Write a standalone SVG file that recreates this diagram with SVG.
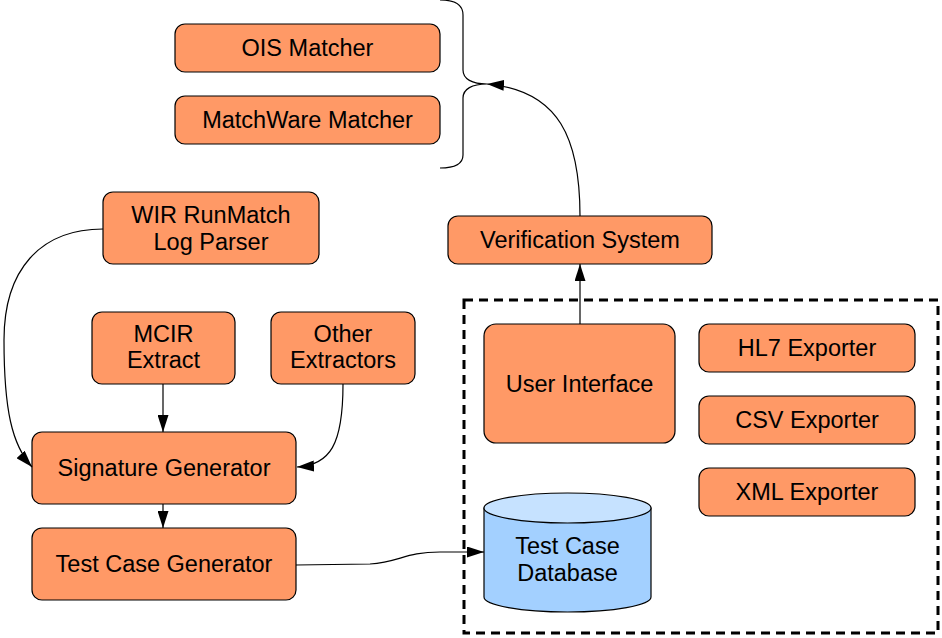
<svg xmlns="http://www.w3.org/2000/svg" width="942" height="638" viewBox="0 0 942 638">
<style>
.box{fill:#ff9966;stroke:#000;stroke-width:1.2}
.t{font-family:"Liberation Sans",Arial,sans-serif;font-size:23.5px;fill:#000;text-anchor:middle}
.c{fill:none;stroke:#000;stroke-width:1.2}
</style>
<defs>
<marker id="ah" markerUnits="userSpaceOnUse" markerWidth="17" markerHeight="11" refX="17" refY="5.5" orient="auto" viewBox="0 0 17 11">
<path d="M0,0 L17,5.5 L0,11 z" fill="#000"/>
</marker>
</defs>
<rect x="0" y="0" width="942" height="638" fill="#fff"/>
<g id="container">
<rect x="464" y="300" width="474" height="333" fill="none" stroke="#000" stroke-width="3" stroke-dasharray="9,6"/>
</g>
<g id="brace">
<path class="c" d="M440,0 C455,0 463,5 463,15 L463,70 C463,79 472,84 487,84 C472,84 463,89 463,98 L463,155 C463,164 455,168 440,168"/>
</g>
<g id="ois"><rect class="box" x="175" y="24" width="265" height="48" rx="10"/><text class="t" x="307.5" y="56">OIS Matcher</text></g>
<g id="matchware"><rect class="box" x="175" y="96" width="265" height="48" rx="10"/><text class="t" x="307.5" y="128">MatchWare Matcher</text></g>
<g id="wir"><rect class="box" x="103" y="192" width="216" height="72" rx="10"/><text class="t" x="211" y="223">WIR RunMatch</text><text class="t" x="211" y="250">Log Parser</text></g>
<g id="mcir"><rect class="box" x="92" y="312" width="143" height="72" rx="10"/><text class="t" x="163.5" y="342">MCIR</text><text class="t" x="163.5" y="368">Extract</text></g>
<g id="other"><rect class="box" x="271" y="312" width="144" height="72" rx="10"/><text class="t" x="343" y="342">Other</text><text class="t" x="343" y="368">Extractors</text></g>
<g id="siggen"><rect class="box" x="32" y="432" width="264" height="72" rx="10"/><text class="t" x="164" y="476">Signature Generator</text></g>
<g id="tcgen"><rect class="box" x="32" y="528" width="264" height="72" rx="10"/><text class="t" x="164" y="572">Test Case Generator</text></g>
<g id="verif"><rect class="box" x="448" y="216" width="264" height="48" rx="10"/><text class="t" x="580" y="248">Verification System</text></g>
<g id="ui"><rect class="box" x="484" y="324" width="191" height="119" rx="12"/><text class="t" x="579.5" y="392">User Interface</text></g>
<g id="hl7"><rect class="box" x="699" y="324" width="216" height="48" rx="10"/><text class="t" x="807" y="356">HL7 Exporter</text></g>
<g id="csv"><rect class="box" x="699" y="396" width="216" height="48" rx="10"/><text class="t" x="807" y="428">CSV Exporter</text></g>
<g id="xml"><rect class="box" x="699" y="468" width="216" height="48" rx="10"/><text class="t" x="807" y="500">XML Exporter</text></g>
<g id="db">
<path d="M484,508 L484,597 A83.5,15 0 0 0 651,597 L651,508 Z" fill="#a3d0ff" stroke="#000" stroke-width="1.2"/>
<ellipse cx="567.5" cy="508" rx="83.5" ry="15" fill="#c6e2ff" stroke="#000" stroke-width="1.2"/>
<text class="t" x="567.5" y="554">Test Case</text><text class="t" x="567.5" y="581">Database</text>
</g>
<g id="connectors">
<path class="c" marker-end="url(#ah)" d="M580,216 C580,140 560,90 487,84"/>
<path class="c" marker-end="url(#ah)" d="M580,324 L580,264"/>
<path class="c" marker-end="url(#ah)" d="M103,229 C40,229 4,270 4,340 C4,410 12,445 32,467"/>
<path class="c" marker-end="url(#ah)" d="M163,384 L163,432"/>
<path class="c" marker-end="url(#ah)" d="M343,384 C343,445 330,465 297,467"/>
<path class="c" marker-end="url(#ah)" d="M163,504 L163,528"/>
<path class="c" marker-end="url(#ah)" d="M296,565 L370,564 C400,562 405,552 440,552 L484,552"/>
</g>
</svg>
